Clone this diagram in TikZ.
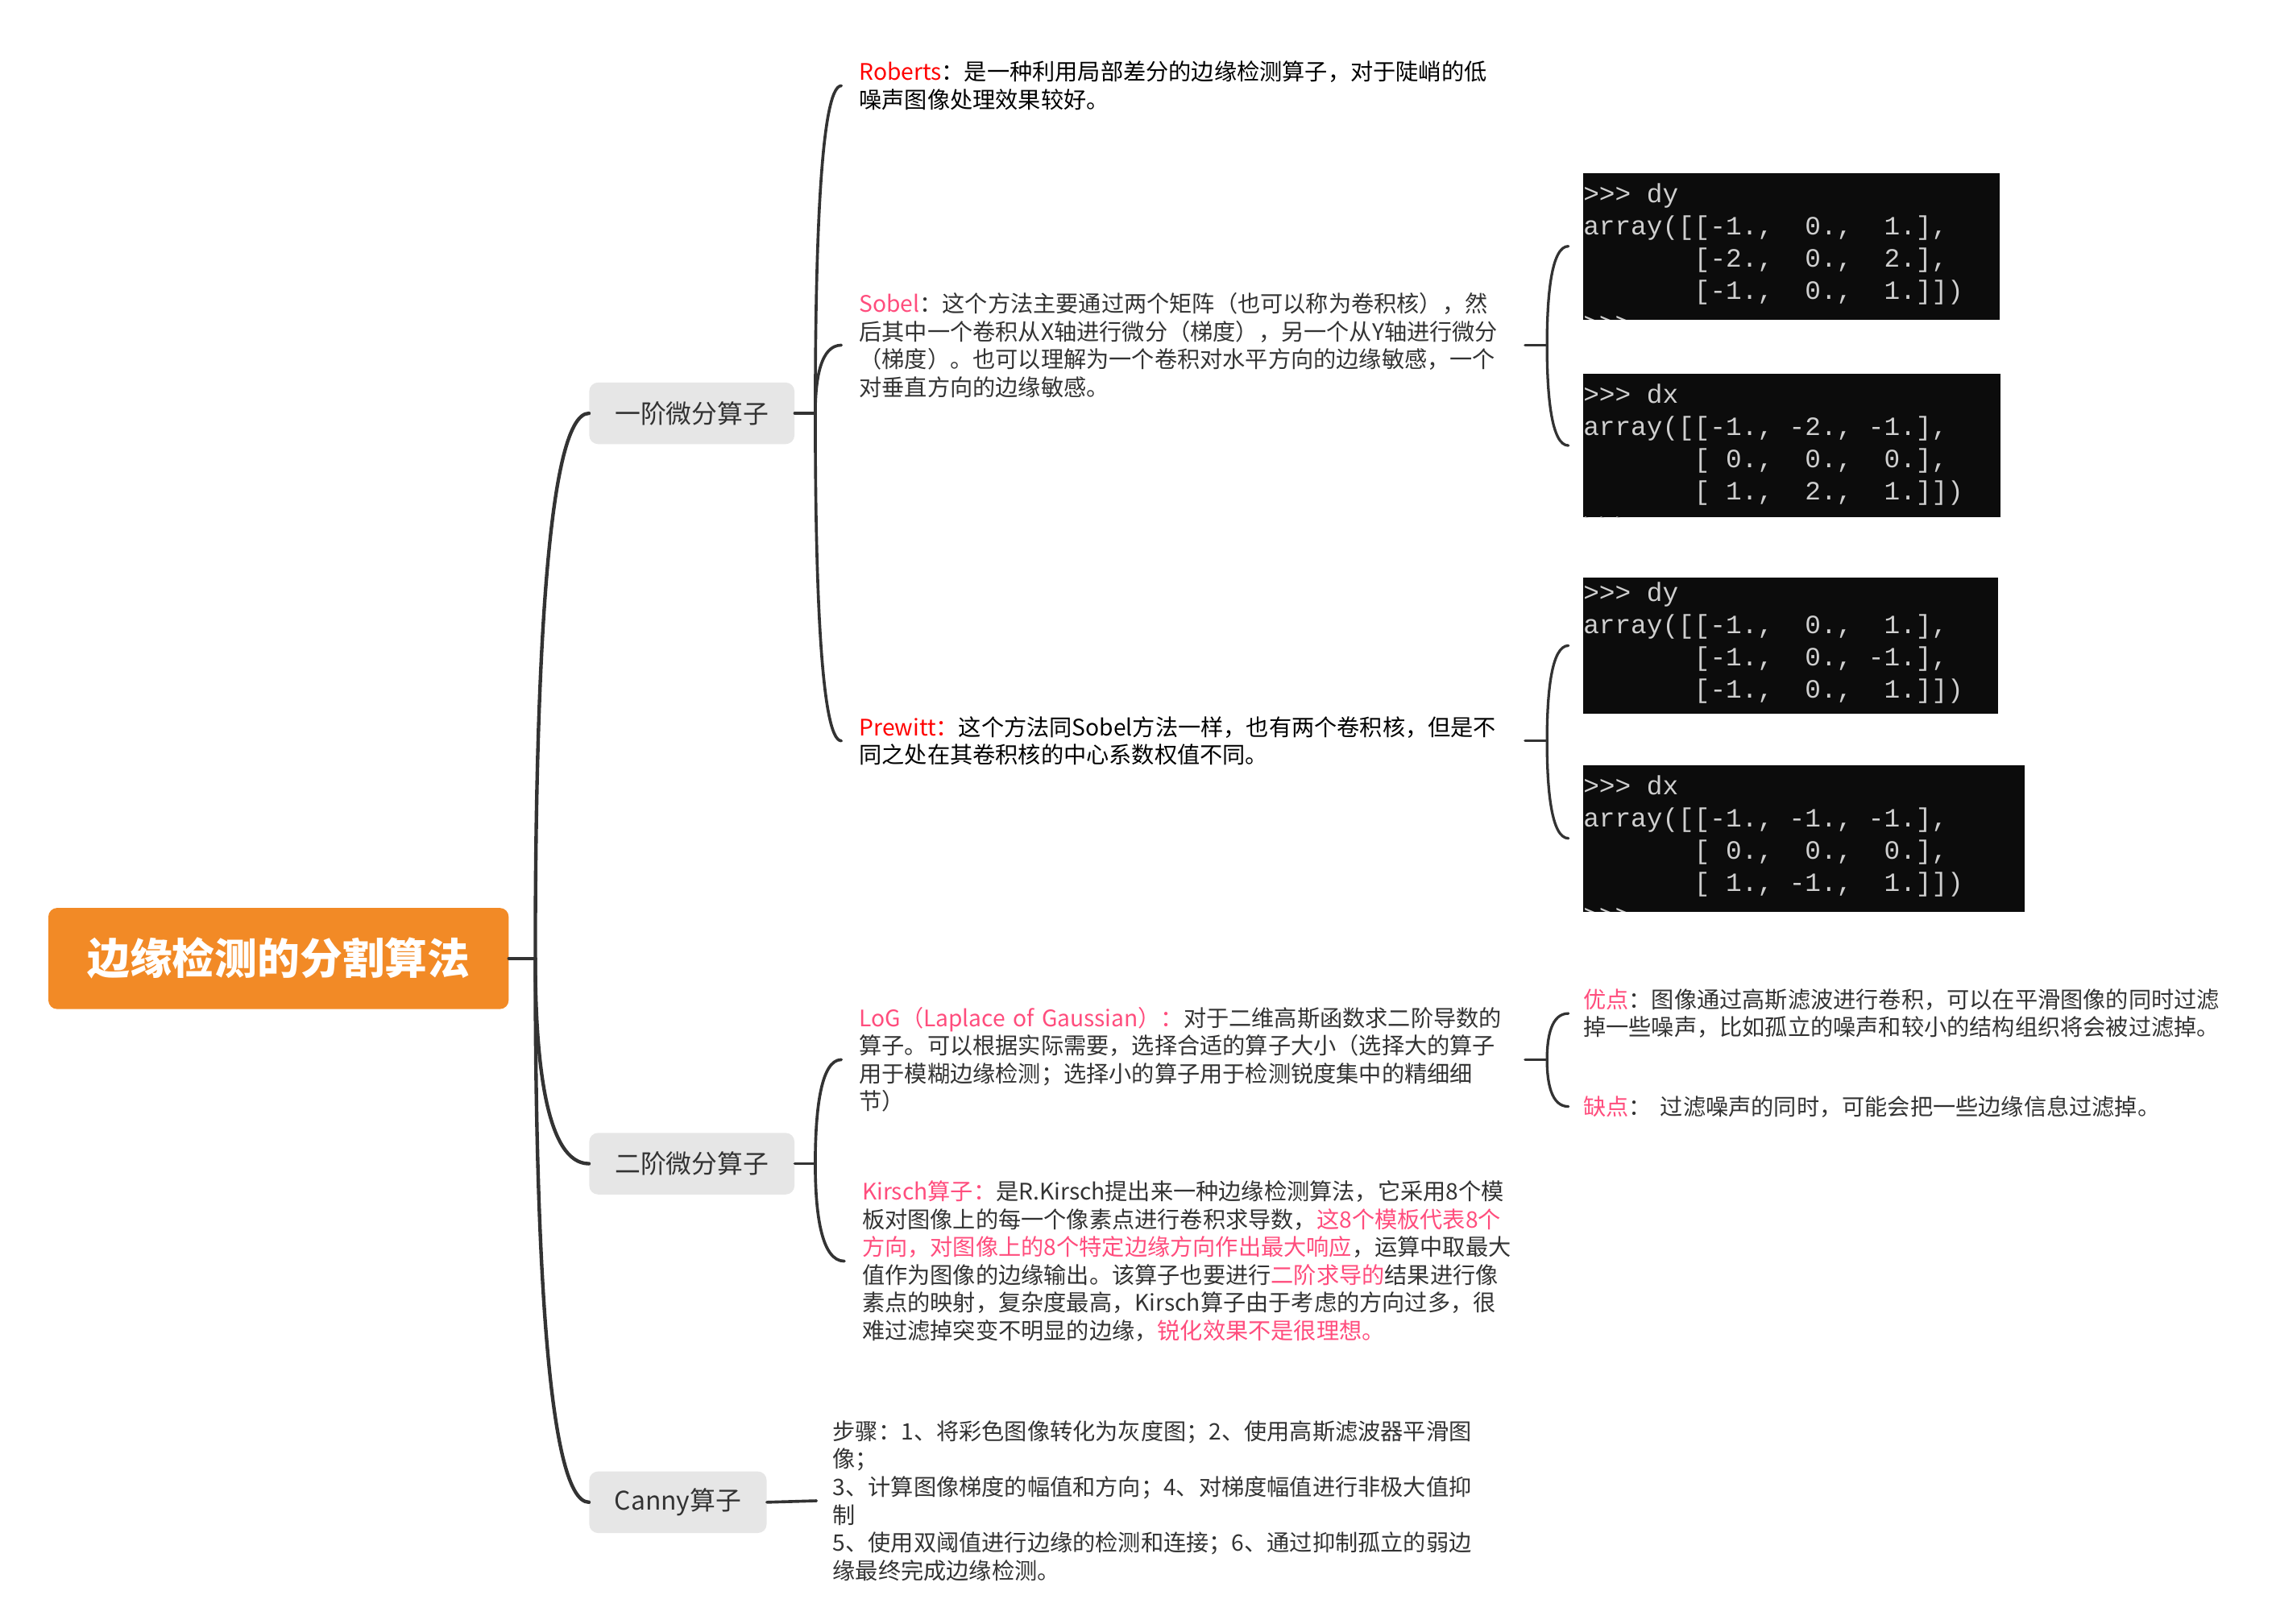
\documentclass[tikz,border=0pt]{standalone}
\usepackage{fontspec}
\setmainfont{Noto Sans CJK SC}
\newfontfamily\termfont{Liberation Mono}
\usetikzlibrary{calc}
\definecolor{rootorange}{HTML}{F28A26}
\definecolor{topicgray}{HTML}{E6E6E6}
\definecolor{linegray}{HTML}{333333}
\definecolor{bodygray}{HTML}{333333}
\definecolor{keyred}{HTML}{FF0000}
\definecolor{keypink}{HTML}{FF4D7D}
\definecolor{termbg}{HTML}{0C0C0C}
\definecolor{termfg}{HTML}{CFCFCF}
\newcommand\pad[1]{\hspace*{#1\fontcharwd\font`0}}
\begin{document}
\begin{tikzpicture}[x=1pt, y=-1pt, line cap=round, line join=round,
	root/.style={fill=rootorange, rounded corners=6pt, minimum width=314pt, minimum height=69pt, text=white, font=\fontsize{29}{34}\selectfont\bfseries},
	topic/.style={fill=topicgray, rounded corners=6pt, minimum height=42pt, text=bodygray, font=\fontsize{17.5}{21}\selectfont},
	note/.style={anchor=west, align=left, inner xsep=12pt, inner ysep=0pt, text=bodygray, font=\fontsize{15.5}{19}\selectfont},
	term/.style={fill=termbg, anchor=north west, inner sep=0pt, outer xsep=10pt, outer ysep=0pt},
	termtxt/.style={anchor=north west, align=left, inner sep=0pt, text=termfg, font=\termfont\fontsize{18}{22}\selectfont},
	br0/.style={draw=linegray, line width=2.4pt},
	br1/.style={draw=linegray, line width=2pt},
	br2/.style={draw=linegray, line width=1.8pt}]
	\useasboundingbox (0,0) rectangle (1550,1108);
	% root and main topics
	\node[root] (root) at (190,654) {边缘检测的分割算法};
	\node[topic, minimum width=140pt] (first) at (472,282) {一阶微分算子};
	\node[topic, minimum width=140pt] (second) at (472,794) {二阶微分算子};
	\node[topic, minimum width=121pt] (canny) at (462.5,1025) {Canny算子};
	\coordinate (j0) at ($(root.east)+(18,0)$);
	\draw[br0] (root.east) -- (j0);
	\foreach \t in {first,second,canny}
		\draw[br0] (j0) .. controls ($(j0)!0.5!(j0|-\t.west)$) and ($(j0|-\t.west)!0.2!(\t.west)$) .. (\t.west);
	% first order operators
	\node[note, text=black] (rob) at (574,58.5) {\textcolor{keyred}{Roberts}：是一种利用局部差分的边缘检测算子，对于陡峭的低\\噪声图像处理效果较好。};
	\node[note, text width=442pt] (sob) at (574,235.5) {\textcolor{keypink}{Sobel}：这个方法主要通过两个矩阵（也可以称为卷积核），然\\后其中一个卷积从X轴进行微分（梯度），另一个从Y轴进行微分\\（梯度）。也可以理解为一个卷积对水平方向的边缘敏感，一个\\对垂直方向的边缘敏感。};
	\node[note, text width=442pt, text=black] (pre) at (574,505.5) {\textcolor{keyred}{Prewitt：}这个方法同Sobel方法一样，也有两个卷积核，但是不\\同之处在其卷积核的中心系数权值不同。};
	\coordinate (j1) at ($(first.east)+(14,0)$);
	\draw[br1] (first.east) -- (j1);
	\foreach \t in {rob,sob,pre}
		\draw[br1] (j1) .. controls ($(j1)!0.5!(j1|-\t.west)$) and ($(j1|-\t.west)!0.2!(\t.west)$) .. (\t.west);
	% sobel kernels
	\node[term, minimum width=284pt, minimum height=100pt] (sdy) at (1070,118) {};
	\node[term, minimum width=285pt, minimum height=98pt] (sdx) at (1070,255) {};
	\begin{scope}
		\clip (1080,118) rectangle (1364,218);
		\node[termtxt] (sdyt) at (1080,125) {>{}>{}>\pad{1}dy\\array([[-1.,\pad{2}0.,\pad{2}1.],\\\pad{7}[-2.,\pad{2}0.,\pad{2}2.],\\\pad{7}[-1.,\pad{2}0.,\pad{2}1.]])\\>{}>{}>};
	\end{scope}
	\begin{scope}
		\clip (1080,255) rectangle (1365,353);
		\node[termtxt] (sdxt) at (1080,262) {>{}>{}>\pad{1}dx\\array([[-1.,\pad{1}-2.,\pad{1}-1.],\\\pad{7}[\pad{1}0.,\pad{2}0.,\pad{2}0.],\\\pad{7}[\pad{1}1.,\pad{2}2.,\pad{2}1.]])\\>{}>{}>};
	\end{scope}
	\coordinate (js) at ($(sob.east)+(15,0)$);
	\draw[br2] (sob.east) -- (js);
	\foreach \t in {sdy,sdx}
		\draw[br2] (js) .. controls ($(js)!0.5!(js|-\t.west)$) and ($(js|-\t.west)!0.2!(\t.west)$) .. (\t.west);
	% prewitt kernels
	\node[term, minimum width=283pt, minimum height=93pt] (pdy) at (1070,394) {};
	\node[term, minimum width=301pt, minimum height=100pt] (pdx) at (1070,522) {};
	\begin{scope}
		\clip (1080,394) rectangle (1363,487);
		\node[termtxt] (pdyt) at (1080,397) {>{}>{}>\pad{1}dy\\array([[-1.,\pad{2}0.,\pad{2}1.],\\\pad{7}[-1.,\pad{2}0.,\pad{1}-1.],\\\pad{7}[-1.,\pad{2}0.,\pad{2}1.]])\\>{}>{}>};
	\end{scope}
	\begin{scope}
		\clip (1080,522) rectangle (1381,622);
		\node[termtxt] (pdxt) at (1080,529) {>{}>{}>\pad{1}dx\\array([[-1.,\pad{1}-1.,\pad{1}-1.],\\\pad{7}[\pad{1}0.,\pad{2}0.,\pad{2}0.],\\\pad{7}[\pad{1}1.,\pad{1}-1.,\pad{2}1.]])\\>{}>{}>};
	\end{scope}
	\coordinate (jp) at ($(pre.east)+(15,0)$);
	\draw[br2] (pre.east) -- (jp);
	\foreach \t in {pdy,pdx}
		\draw[br2] (jp) .. controls ($(jp)!0.5!(jp|-\t.west)$) and ($(jp|-\t.west)!0.2!(\t.west)$) .. (\t.west);
	% second order operators
	\node[note, text width=442pt] (log) at (574,723) {\textcolor{keypink}{LoG（Laplace of Gaussian）：}对于二维高斯函数求二阶导数的\\算子。可以根据实际需要，选择合适的算子大小（选择大的算子\\用于模糊边缘检测；选择小的算子用于检测锐度集中的精细细\\节）};
	\node[note] (kir) at (576,860.5) {\textcolor{keypink}{Kirsch算子：}是R.Kirsch提出来一种边缘检测算法，它采用8个模\\板对图像上的每一个像素点进行卷积求导数，\textcolor{keypink}{这8个模板代表8个}\\\textcolor{keypink}{方向，对图像上的8个特定边缘方向作出最大响应}，运算中取最大\\值作为图像的边缘输出。该算子也要进行\textcolor{keypink}{二阶求导的}结果进行像\\素点的映射，复杂度最高，Kirsch算子由于考虑的方向过多，很\\难过滤掉突变不明显的边缘，\textcolor{keypink}{锐化效果不是很理想。}};
	\coordinate (j2) at ($(second.east)+(14,0)$);
	\draw[br1] (second.east) -- (j2);
	\foreach \t in {log,kir}
		\draw[br1] (j2) .. controls ($(j2)!0.5!(j2|-\t.west)$) and ($(j2|-\t.west)!0.2!(\t.west)$) .. (\t.west);
	\node[note, inner xsep=10pt] (adv) at (1070,691.5) {\textcolor{keypink}{优点}：图像通过高斯滤波进行卷积，可以在平滑图像的同时过滤\\掉一些噪声，比如孤立的噪声和较小的结构组织将会被过滤掉。};
	\node[note, inner xsep=10pt] (dis) at (1070,755) {\textcolor{keypink}{缺点}：\hspace{6pt}过滤噪声的同时，可能会把一些边缘信息过滤掉。};
	\coordinate (jl) at ($(log.east)+(15,0)$);
	\draw[br2] (log.east) -- (jl);
	\foreach \t in {adv,dis}
		\draw[br2] (jl) .. controls ($(jl)!0.5!(jl|-\t.west)$) and ($(jl|-\t.west)!0.2!(\t.west)$) .. (\t.west);
	% canny
	\node[note, inner xsep=11pt] (can) at (557,1024) {步骤：1、将彩色图像转化为灰度图；2、使用高斯滤波器平滑图\\像；\\3、计算图像梯度的幅值和方向；4、对梯度幅值进行非极大值抑\\制\\5、使用双阈值进行边缘的检测和连接；6、通过抑制孤立的弱边\\缘最终完成边缘检测。};
	\draw[br1] (canny.east) -- (can.west);
\end{tikzpicture}
\end{document}
